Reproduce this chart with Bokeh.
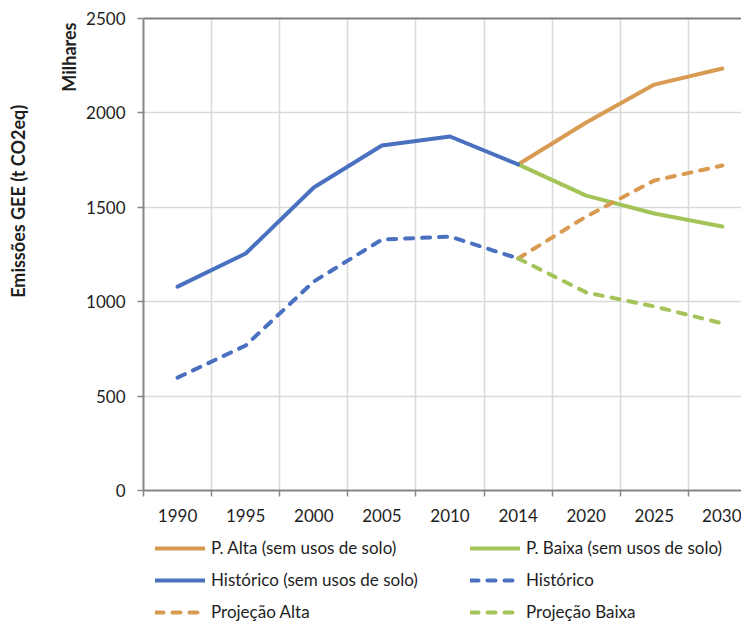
from bokeh.plotting import figure
from bokeh.layouts import column
from bokeh.models import (Range1d, FixedTicker, LinearAxis, Grid, Legend, LegendItem, Title)
from bokeh.embed import file_html
from bokeh.resources import INLINE

years = ["1990", "1995", "2000", "2005", "2010", "2014", "2020", "2025", "2030"]
hist_sem_usos = [1080, 1255, 1605, 1827, 1875, 1727]
hist_total = [598, 768, 1107, 1329, 1345, 1229]
p_alta = [1727, 1949, 2150, 2235]
p_baixa = [1727, 1562, 1467, 1398]
proj_alta = [1229, 1451, 1642, 1721]
proj_baixa = [1229, 1049, 975, 885]
y_ticks = [0, 500, 1000, 1500, 2000, 2500]
labels = ["P. Alta (sem usos de solo)", "P. Baixa (sem usos de solo)",
          "Histórico (sem usos de solo)", "Histórico", "Projeção Alta", "Projeção Baixa"]

BLUE = "#4A70C0"
ORANGE = "#D99A52"
GREEN = "#A4C45A"
AXIS = "#868686"
GRID = "#D9D9D9"
FONT = "Lato"
TXT = "#1E1E1E"

n = len(years)
xc = [i + 0.5 for i in range(n)]
x_hist = xc[:len(hist_sem_usos)]
x_proj = xc[len(hist_sem_usos) - 1:]

W = 4
dash = "8 9"
series = [
    (x_proj, p_alta, ORANGE, "solid"),
    (x_proj, p_baixa, GREEN, "solid"),
    (x_hist, hist_sem_usos, BLUE, "solid"),
    (x_hist, hist_total, BLUE, dash),
    (x_proj, proj_alta, ORANGE, dash),
    (x_proj, proj_baixa, GREEN, dash),
]

p = figure(width=741, height=533, output_backend="svg", toolbar_location=None,
           x_range=Range1d(0, 8.78), y_range=Range1d(0, 2500),
           x_axis_type=None, min_border_left=143, min_border_right=0,
           min_border_top=18, min_border_bottom=43)
p.outline_line_color = None

ya = p.yaxis[0]
ya.ticker = FixedTicker(ticks=y_ticks)
ya.axis_line_color = AXIS
ya.axis_line_width = 2
ya.major_tick_line_color = AXIS
ya.major_tick_line_width = 1.5
ya.major_tick_out = 6
ya.major_tick_in = 0
ya.minor_tick_line_color = None
ya.major_label_text_font = FONT
ya.major_label_text_font_size = "17px"
ya.major_label_text_color = TXT
ya.major_label_standoff = 12

p.ygrid[0].ticker = FixedTicker(ticks=y_ticks)
p.ygrid[0].grid_line_color = GRID
p.ygrid[0].grid_line_width = 1.5

xgrid = Grid(dimension=0, ticker=FixedTicker(ticks=list(range(1, n))),
             grid_line_color=GRID, grid_line_width=1.5)
p.add_layout(xgrid, "center")

top_ax = LinearAxis(ticker=FixedTicker(ticks=[]), axis_line_color="#7F7F7F", axis_line_width=2,
                    major_tick_line_color=None, minor_tick_line_color=None)
p.add_layout(top_ax, "above")

bounds = list(range(0, n + 1))
tick_ax = LinearAxis(ticker=FixedTicker(ticks=bounds),
                     major_label_overrides={b: "" for b in bounds},
                     axis_line_color=AXIS, axis_line_width=2,
                     major_tick_line_color=AXIS, major_tick_line_width=1.5,
                     major_tick_out=6, major_tick_in=0, minor_tick_line_color=None,
                     major_label_standoff=0)
p.add_layout(tick_ax, "below")

lab_ax = LinearAxis(ticker=FixedTicker(ticks=xc),
                    major_label_overrides={x: y for x, y in zip(xc, years)},
                    axis_line_color=None, major_tick_line_color=None,
                    minor_tick_line_color=None, major_tick_out=0, major_tick_in=0,
                    major_label_text_font=FONT, major_label_text_font_size="17px",
                    major_label_text_color=TXT, major_label_standoff=12)
p.add_layout(lab_ax, "below")

for xs, ys, c, d in series:
    p.line(xs, ys, line_color=c, line_width=W, line_dash=d, line_cap="round", line_join="round")

t_mil = Title(text="Milhares", align="right", offset=4, text_font=FONT, text_font_style="bold",
              text_font_size="18px", text_color=TXT, standoff=8)
t_gap = Title(text=" ", text_font=FONT, text_font_size="10px", standoff=6)
t_emi = Title(text="Emissões GEE  (t CO2eq)", align="right", offset=82, text_font=FONT,
              text_font_style="bold", text_font_size="18px", text_color=TXT, standoff=6)
p.add_layout(t_mil, "left")
p.add_layout(t_gap, "left")
p.add_layout(t_emi, "left")

# legend strip (its lines lie outside its ranges; only the legend shows)
lg = figure(width=741, height=88, output_backend="svg", toolbar_location=None,
            x_range=Range1d(100, 101), y_range=Range1d(100, 101),
            x_axis_type=None, y_axis_type=None,
            min_border_left=0, min_border_right=0, min_border_top=0, min_border_bottom=0)
lg.outline_line_color = None
lg.xgrid.visible = False
lg.ygrid.visible = False
items = []
for (xs, ys, c, d), lab in zip(series, labels):
    r = lg.line(xs, ys, line_color=c, line_width=W, line_dash=d, line_cap="round", line_join="round")
    items.append(LegendItem(label=lab, renderers=[r]))
legend = Legend(items=items, orientation="horizontal", ncols=2, location=(12, -1),
                glyph_width=50, glyph_height=20, label_height=20, label_width=248,
                label_standoff=6,
                label_text_font=FONT, label_text_font_size="17px", label_text_color=TXT,
                spacing=11, padding=0, margin=0, border_line_color=None,
                background_fill_alpha=0)
lg.add_layout(legend, "center")

layout = column(p, lg, spacing=0)
open("out.html", "w").write(file_html(layout, INLINE))
